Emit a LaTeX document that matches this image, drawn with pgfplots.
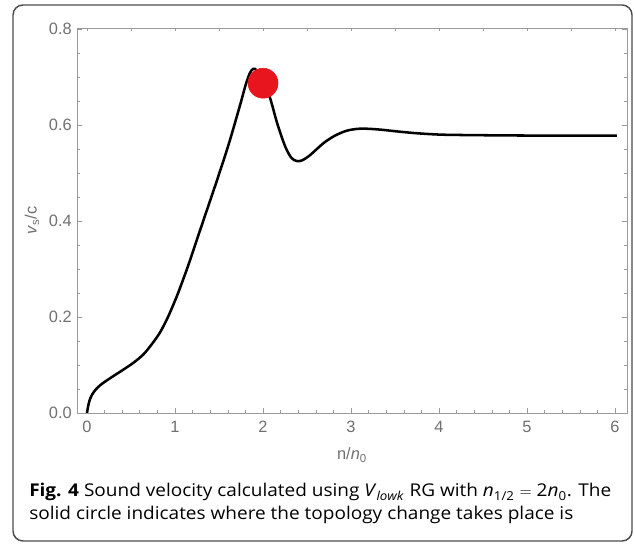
\documentclass[border=0pt]{standalone}
\usepackage{pgfplots}
\pgfplotsset{compat=1.18}
\usepackage{fontspec}
\setmainfont[FakeStretch=1.08]{Open Sans}
\newfontfamily\tickfont{Liberation Sans}
\definecolor{framegray}{HTML}{9A9A9A}
\definecolor{labgray}{HTML}{707070}
\definecolor{dotred}{HTML}{E8141E}
\begin{document}
\begin{tikzpicture}
\useasboundingbox (0pt,0pt) rectangle (476.25pt,408.75pt);
\draw[line width=1.1pt, color=black!70, rounded corners=7.5pt] (9.75pt,3pt) rectangle (474pt,405pt);
\begin{axis}[
  at={(57.75pt,99pt)}, anchor=south west,
  scale only axis, width=412.5pt, height=288.75pt,
  xmin=-0.114, xmax=6.136, ymin=0, ymax=0.802,
  axis line style={framegray, line width=0.6pt},
  every tick/.style={framegray, line width=0.5pt},
  tick align=inside,
  major tick length=3.75pt, minor tick length=2.25pt,
  xtick={0,1,2,3,4,5,6}, minor x tick num=4,
  ytick={0,0.2,0.4,0.6,0.8}, minor y tick num=3,
  xtick pos=bottom, ytick pos=both,
  /pgf/number format/assume math mode=true,
  tick label style={font=\tickfont\fontsize{12.3}{14}\selectfont, text=labgray},
  y tick label style={/pgf/number format/.cd, fixed, fixed zerofill, precision=1, /tikz/.cd, inner sep=0pt, anchor=east, xshift=-3.75pt},
  x tick label style={inner sep=0pt, anchor=north, yshift=-6pt},
  xlabel={n/\textit{n}\textsubscript{0}},
  ylabel={\textit{v}\textsubscript{s}/c},
  label style={font=\tickfont\fontsize{12.3}{14}\selectfont, text=labgray},
  xlabel style={at={(axis description cs:0.5,-0.109)}, anchor=center},
  ylabel style={at={(axis description cs:-0.0818,0.5)}, anchor=center},
  clip=false,
]
\addplot[black, line width=1.9pt, smooth] coordinates {
(0,0) (0.01,0.012) (0.03,0.027) (0.06,0.039) (0.10,0.049) (0.15,0.058)
(0.21,0.066) (0.30,0.077) (0.41,0.090) (0.53,0.105) (0.64,0.122) (0.735,0.143)
(0.83,0.168) (0.92,0.200) (1.02,0.243) (1.10,0.282) (1.17,0.318) (1.32,0.400)
(1.47,0.481) (1.61,0.560) (1.74,0.642) (1.80,0.682) (1.85,0.708) (1.89,0.717)
(1.93,0.713) (2.0,0.690) (2.08,0.656) (2.16,0.604) (2.25,0.556) (2.32,0.532)
(2.38,0.525) (2.44,0.526) (2.52,0.535) (2.60,0.548) (2.70,0.564) (2.82,0.578)
(2.95,0.588) (3.08,0.592) (3.2,0.592) (3.35,0.590) (3.5,0.587) (3.73,0.583)
(4.0,0.580) (4.3,0.579) (5.0,0.578) (6.02,0.578)
};
\addplot[only marks, mark=*, mark size=11.25pt, color=dotred] coordinates {(2.0,0.687)};
\end{axis}
\begin{axis}[
  at={(57.75pt,99pt)}, anchor=south west,
  scale only axis, width=412.5pt, height=288.75pt,
  xmin=-0.114, xmax=6.136, ymin=0, ymax=0.802,
  axis line style={framegray, line width=0.6pt},
  every tick/.style={framegray, line width=0.5pt},
  tick align=inside,
  major tick length=2.6pt, minor tick length=2.25pt,
  xtick={0,1,2,3,4,5,6}, minor xtick={0.5,1.5,2.5,3.5,4.5,5.5},
  xticklabels={}, ytick=\empty,
  xtick pos=top,
]
\end{axis}
\node[anchor=base west, inner sep=0pt, font=\fontsize{13.2}{15}\selectfont] at (21.75pt,36pt)
  {\textbf{Fig. 4} Sound velocity calculated using \textit{V}\textsubscript{\textit{lowk}} RG with \textit{n}\textsubscript{1/2} $=$ 2\textit{n}\textsubscript{0}. The};
\node[anchor=base west, inner sep=0pt, font=\fontsize{13.2}{15}\selectfont] at (21.75pt,18.75pt)
  {solid circle indicates where the topology change takes place is};
\end{tikzpicture}
\end{document}
